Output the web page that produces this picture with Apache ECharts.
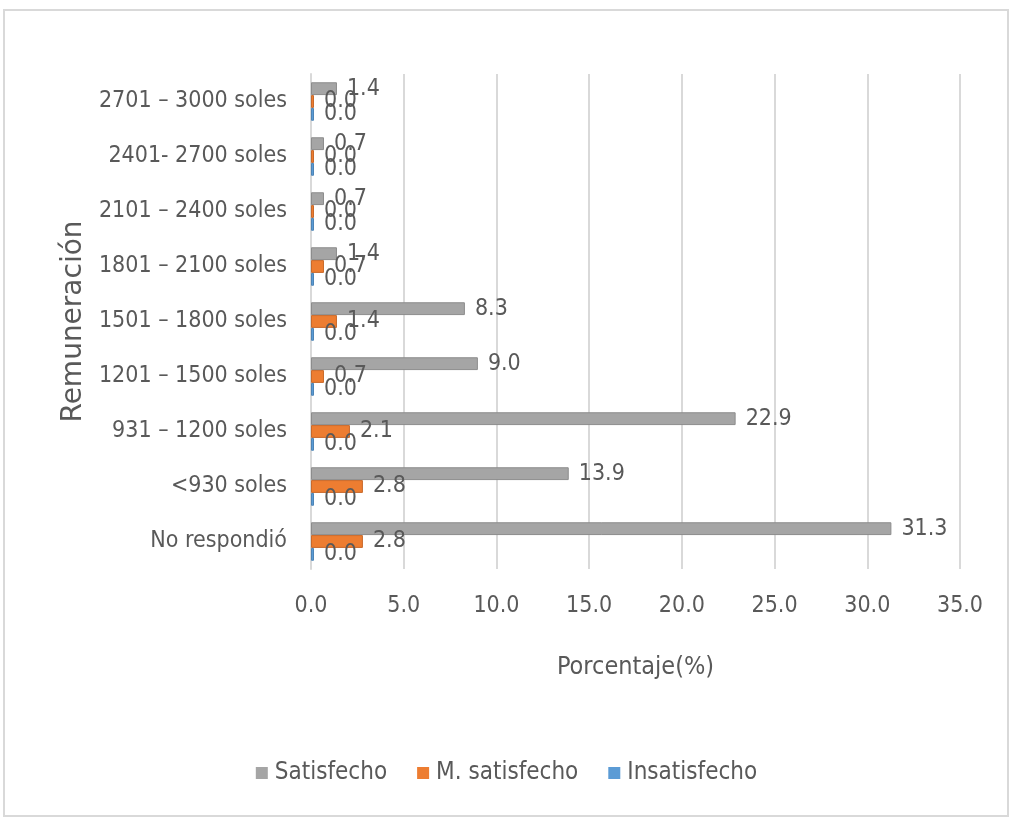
<!DOCTYPE html>
<html>
<head>
<meta charset="utf-8">
<script src="https://cdn.jsdelivr.net/npm/echarts@6/dist/echarts.min.js"></script>
<style>
  html, body { margin: 0; padding: 0; background: #fff; }
  #main { width: 1013px; height: 820px; }
</style>
</head>
<body>
<div id="main"></div>
<script>
// categories, bottom to top
const categories = ['No respondió', '<930 soles', '931 – 1200 soles', '1201 – 1500 soles',
  '1501 – 1800 soles', '1801 – 2100 soles', '2101 – 2400 soles', '2401- 2700 soles', '2701 – 3000 soles'];
const satisfecho = [31.3, 13.9, 22.9, 9.0, 8.3, 1.4, 0.7, 0.7, 1.4];
const mSatisfecho = [2.8, 2.8, 2.1, 0.7, 1.4, 0.7, 0.0, 0.0, 0.0];
const insatisfecho = [0.0, 0.0, 0.0, 0.0, 0.0, 0.0, 0.0, 0.0, 0.0];
const xTicks = [0, 5, 10, 15, 20, 25, 30, 35];

const font = '"Liberation Sans Narrow", "DejaVu Sans Condensed", sans-serif';
const textColor = '#595959';

const chart = echarts.init(document.getElementById('main'));

function barSeries(name, data, color, edge) {
  return {
    name: name,
    type: 'bar',
    data: data,
    barGap: '0%',
    barCategoryGap: '30%',
    barMinHeight: 3,
    itemStyle: { color: color, borderColor: edge, borderWidth: 1 },
    label: {
      show: true,
      position: 'right',
      distance: 10,
      color: textColor,
      fontFamily: font,
      fontSize: 23,
      formatter: p => p.value.toFixed(1)
    }
  };
}

const option = {
  backgroundColor: '#fff',
  animation: false,
  textStyle: { fontFamily: font },
  grid: { left: 311, right: 53, top: 74, bottom: 251 },
  legend: {
    bottom: 30,
    left: 'center',
    itemWidth: 12,
    itemHeight: 12,
    itemGap: 30,
    icon: 'rect',
    itemStyle: { borderWidth: 0 },
    textStyle: { color: textColor, fontFamily: font, fontSize: 24, padding: [0, 0, 0, 2] },
    data: ['Satisfecho', 'M. satisfecho', 'Insatisfecho']
  },
  xAxis: {
    type: 'value',
    min: xTicks[0],
    max: xTicks[xTicks.length - 1],
    interval: 5,
    name: 'Porcentaje(%)',
    nameLocation: 'middle',
    nameGap: 86,
    nameTextStyle: { color: textColor, fontFamily: font, fontSize: 25 },
    axisLine: { show: false },
    axisTick: { show: false },
    axisLabel: {
      color: textColor, fontFamily: font, fontSize: 23, margin: 26,
      formatter: v => v.toFixed(1)
    },
    splitLine: { show: true, lineStyle: { color: '#d9d9d9', width: 2 } }
  },
  yAxis: {
    type: 'category',
    data: categories,
    name: 'Remuneración',
    nameLocation: 'middle',
    nameRotate: 90,
    nameGap: 222,
    nameTextStyle: { color: textColor, fontFamily: '"DejaVu Sans", sans-serif', fontSize: 28 },
    axisLine: { show: true, lineStyle: { color: '#d9d9d9', width: 2 } },
    axisTick: { show: false },
    axisLabel: { color: textColor, fontFamily: font, fontSize: 23, margin: 24 },
    splitLine: { show: false }
  },
  graphic: [{
    type: 'rect',
    shape: { x: 4, y: 10, width: 1004, height: 806 },
    style: { fill: 'none', stroke: '#d9d9d9', lineWidth: 2 },
    silent: true
  }],
  series: [
    barSeries('Satisfecho', satisfecho, '#a5a5a5', '#8c8c8c'),
    barSeries('M. satisfecho', mSatisfecho, '#ed7d31', '#c9692a'),
    barSeries('Insatisfecho', insatisfecho, '#5b9bd5', '#4d84b5')
  ]
};

chart.setOption(option);
</script>
</body>
</html>
